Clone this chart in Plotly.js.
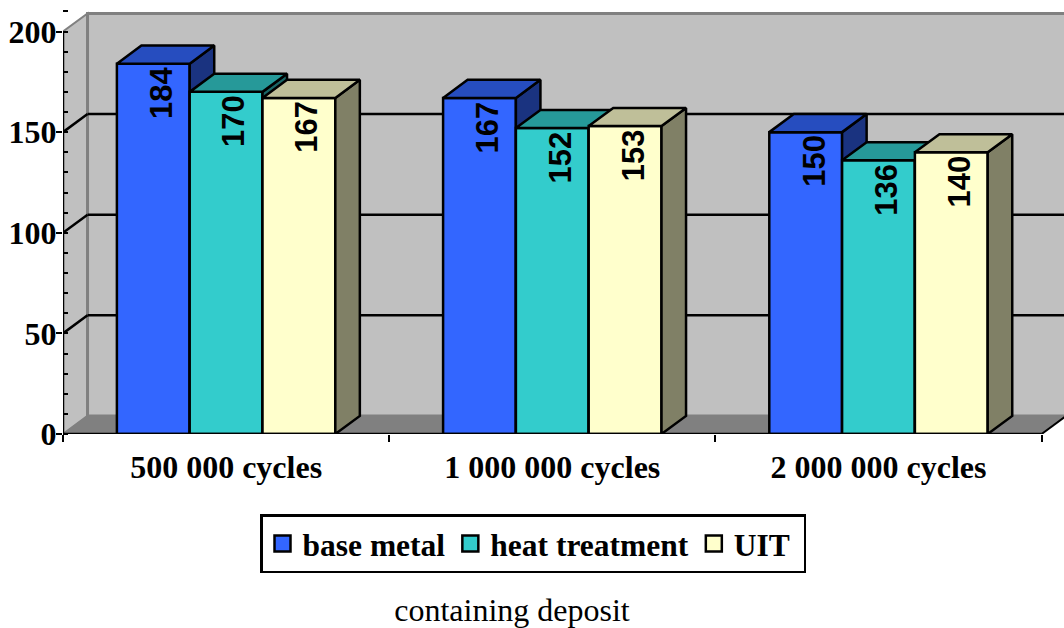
<!DOCTYPE html>
<html>
<head>
<meta charset="utf-8">
<script src="https://cdn.plot.ly/plotly-3.0.1.min.js"></script>
<style>html,body{margin:0;padding:0;background:#fff}#chart{width:1064px;height:628px}</style>
</head>
<body>
<div id="chart"></div>
<script>
const categories = ['500 000 cycles', '1 000 000 cycles', '2 000 000 cycles'];
const seriesNames = ['base metal', 'heat treatment', 'UIT\u00a0'];
const baseMetal = [184, 167, 150];
const heatTreatment = [170, 152, 136];
const uit = [167, 153, 140];
const frontColors = ['#3366ff', '#33cccc', '#ffffcc'];
const topColors = ['#264dbf', '#269999', '#bfbf99'];
const sideColors = ['#1a3380', '#1a6666', '#808066'];
const yTicks = [0, 50, 100, 150, 200];
const gridValues = [50, 100, 150];

const allSeries = [baseMetal, heatTreatment, uit];
const barW = 0.2232, depthX = 0.0752, depthY = 9;
const xMax = 1001 / 326.2, yMax = 423 / 2.0125, yTop = 200;
const serif = '"Liberation Serif", "Times New Roman", serif';
const axisIds = [['x', 'y'], ['x2', 'y2'], ['x3', 'y3']];
const lineW = 2.5;

const traces = [];
const annotations = [];
allSeries.forEach((vals, s) => {
  const xa = axisIds[s][0], ya = axisIds[s][1];
  const lefts = vals.map((_, c) => c + 0.5 + (s - 1.5) * barW);
  traces.push({type: 'bar', x: lefts.map(l => l + barW / 2), y: vals, width: barW,
    marker: {color: frontColors[s], line: {color: '#000', width: lineW}},
    xaxis: xa, yaxis: ya, showlegend: false, hoverinfo: 'y'});
  const sx = [], sy = [], tx = [], ty = [];
  vals.forEach((v, c) => {
    const l = lefts[c], r = l + barW;
    sx.push(r, r + depthX, r + depthX, r, r, null);
    sy.push(0, depthY, v + depthY, v, 0, null);
    tx.push(l, l + depthX, r + depthX, r, l, null);
    ty.push(v, v + depthY, v + depthY, v, v, null);
    annotations.push({text: String(v), xref: xa, yref: ya, x: l + barW / 2 + 0.0245, y: v - 1,
      yanchor: 'top', xanchor: 'center', textangle: -90, showarrow: false, borderpad: 0,
      font: {family: '"Liberation Sans", Arial, sans-serif', size: 31, weight: 700, color: '#000'}});
  });
  [[sx, sy, sideColors[s]], [tx, ty, topColors[s]]].forEach(p => {
    traces.push({type: 'scatter', mode: 'lines', x: p[0], y: p[1], fill: 'toself', fillcolor: p[2],
      line: {color: '#000', width: lineW}, xaxis: xa, yaxis: ya, showlegend: false, hoverinfo: 'skip'});
  });
});
seriesNames.forEach((name, s) => {
  traces.push({type: 'scatter', mode: 'markers', x: [null], y: [null], name: name, xaxis: 'x', yaxis: 'y',
    marker: {symbol: 'square', size: 16, color: frontColors[s], line: {color: '#000', width: 2.5}}});
});

const wall = '#c0c0c0', edge = '#808080';
const poly = pts => 'M' + pts.map(p => p[0] + ',' + p[1]).join('L') + 'Z';
const xEnd = 3 + depthX;
const shapes = [
  {type: 'path', layer: 'below', xref: 'x', yref: 'y', fillcolor: wall, line: {color: edge, width: 2},
    path: poly([[0, 0], [depthX, depthY], [depthX, yTop + depthY], [0, yTop]])},
  {type: 'path', layer: 'below', xref: 'x', yref: 'y', fillcolor: wall, line: {color: edge, width: 3},
    path: poly([[depthX, depthY], [depthX, yTop + depthY], [xEnd, yTop + depthY], [xEnd, depthY]])},
  {type: 'path', layer: 'below', xref: 'x', yref: 'y', fillcolor: edge, line: {color: edge, width: 1},
    path: poly([[0, 0], [depthX, depthY], [xEnd, depthY], [3, 0]])},
  {type: 'line', layer: 'below', xref: 'x', yref: 'y', x0: 3, y0: 0, x1: xEnd, y1: depthY, line: {color: '#000', width: 2}},
];
gridValues.forEach(v => {
  shapes.push({type: 'line', layer: 'below', xref: 'x', yref: 'y', x0: 0, y0: v, x1: depthX, y1: v + depthY, line: {color: '#000', width: lineW}});
  shapes.push({type: 'line', layer: 'below', xref: 'x', yref: 'y', x0: depthX, y0: v + depthY, x1: xEnd, y1: v + depthY, line: {color: '#000', width: lineW}});
});
shapes.push({type: 'line', layer: 'above', xref: 'x', yref: 'y', x0: 0, y0: 0, x1: 0, y1: yTop, line: {color: '#000', width: lineW}});
shapes.push({type: 'line', layer: 'above', xref: 'x', yref: 'y', x0: 0, y0: 0, x1: 3, y1: 0, line: {color: '#000', width: lineW}});

const tickFont = {family: serif, size: 32, weight: 700, color: '#000'};
const hiddenX = {type: 'linear', range: [0, xMax], visible: false, fixedrange: true};
const hiddenY = {type: 'linear', range: [0, yMax], visible: false, fixedrange: true};
const layout = {
  width: 1064, height: 628,
  margin: {l: 63, r: 0, t: 11, b: 194, pad: 0},
  paper_bgcolor: '#fff', plot_bgcolor: 'rgba(0,0,0,0)',
  showlegend: true,
  title: {text: 'containing deposit', font: {family: serif, size: 32, color: '#000'},
    x: 512 / 1064, xanchor: 'center', xref: 'container', y: 1 - 610 / 628, yanchor: 'middle', yref: 'container'},
  legend: {orientation: 'h', x: (260 - 63) / 1001, xanchor: 'left', y: (434 - 514) / 423, yanchor: 'top',
    bgcolor: '#fff', bordercolor: '#000', borderwidth: 2.5, font: {family: serif, size: 31.5, weight: 700, color: '#000'},
    itemsizing: 'trace'},
  xaxis: {type: 'linear', range: [0, xMax], tickmode: 'array', tickvals: [0, 1, 2, 3], ticktext: ['', '', '', ''],
    ticks: 'outside', ticklen: 7, tickwidth: 2, tickcolor: '#000', showgrid: false, zeroline: false, showline: false, fixedrange: true, anchor: 'y'},
  yaxis: {type: 'linear', range: [0, yMax], tickmode: 'array', tickvals: yTicks,
    ticks: 'outside', ticklen: 6, tickwidth: 2, tickcolor: '#000', showgrid: false, zeroline: false, showline: false, fixedrange: true,
    tickfont: tickFont, anchor: 'x', ticklabelstandoff: -7,
    minor: {dtick: 10, tick0: 0, ticks: 'inside', ticklen: 5, tickwidth: 2, tickcolor: '#000', showgrid: false}},
  xaxis2: Object.assign({}, hiddenX, {overlaying: 'x', anchor: 'y2'}),
  yaxis2: Object.assign({}, hiddenY, {overlaying: 'y', anchor: 'x2'}),
  xaxis3: {type: 'linear', range: [0, xMax], overlaying: 'x', anchor: 'y3', side: 'bottom', tickmode: 'array',
    tickvals: categories.map((_, i) => i + 0.5), ticktext: categories, ticks: '', showgrid: false, zeroline: false, showline: false,
    tickfont: tickFont, ticklabelstandoff: 11, fixedrange: true},
  yaxis3: Object.assign({}, hiddenY, {overlaying: 'y', anchor: 'x3'}),
  shapes: shapes,
  annotations: annotations,
  hovermode: 'closest'
};
Plotly.newPlot('chart', traces, layout, {displayModeBar: false, responsive: false});
</script>
</body>
</html>
